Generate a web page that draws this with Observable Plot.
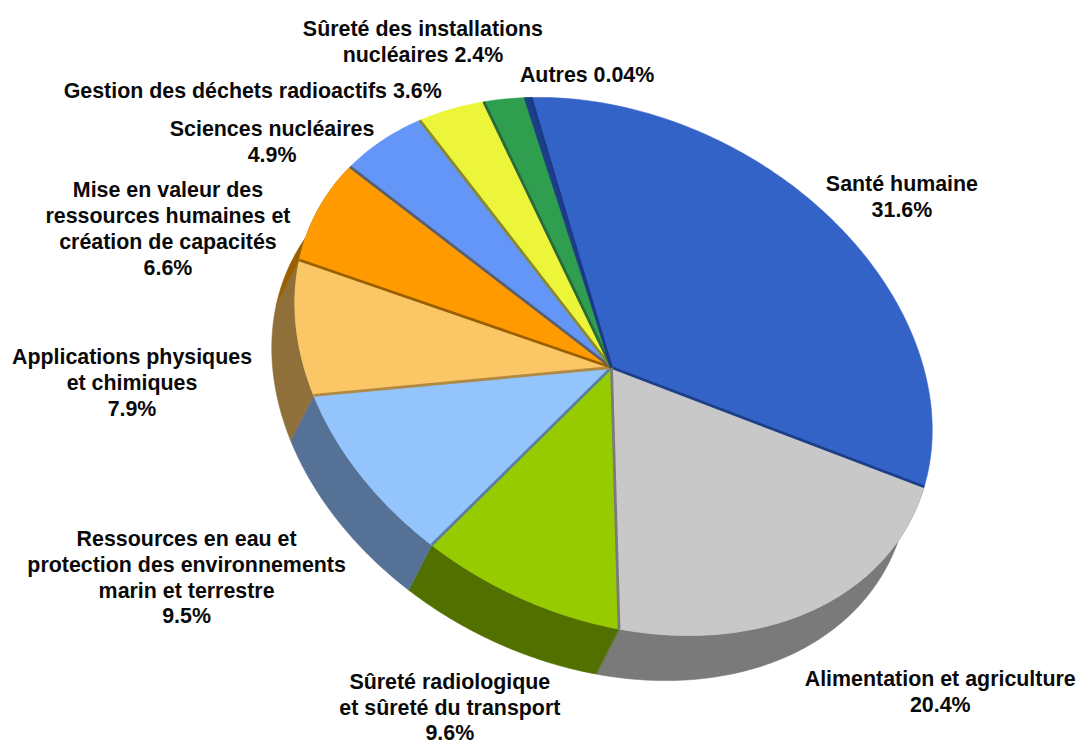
<!DOCTYPE html>
<html lang="fr">
<head>
<meta charset="utf-8">
<title>Répartition par domaine</title>
<script src="https://cdn.jsdelivr.net/npm/d3@7"></script>
<script src="https://cdn.jsdelivr.net/npm/@observablehq/plot@0.6"></script>
<style>
  html, body { margin: 0; padding: 0; background: #fff; }
  svg { display: block; }
</style>
</head>
<body>
<div id="chart"></div>
<script>
// Slices, clockwise from the top of the pie.
const categories = [
  "Santé humaine", "Alimentation et agriculture", "Sûreté radiologique et sûreté du transport",
  "Ressources en eau et protection des environnements marin et terrestre",
  "Applications physiques et chimiques",
  "Mise en valeur des ressources humaines et création de capacités",
  "Sciences nucléaires", "Gestion des déchets radioactifs",
  "Sûreté des installations nucléaires", "Autres"
];
const shares = [31.6, 20.4, 9.6, 9.5, 7.9, 6.6, 4.9, 3.6, 2.4, 0.04];
const shareLabels = ["31.6%", "20.4%", "9.6%", "9.5%", "7.9%", "6.6%", "4.9%", "3.6%", "2.4%", "0.04%"];
const labelText = [
  "Santé humaine\n", "Alimentation et agriculture\n", "Sûreté radiologique\net sûreté du transport\n",
  "Ressources en eau et\nprotection des environnements\nmarin et terrestre\n",
  "Applications physiques\net chimiques\n",
  "Mise en valeur des\nressources humaines et\ncréation de capacités\n",
  "Sciences nucléaires\n", "Gestion des déchets radioactifs ",
  "Sûreté des installations\nnucléaires ", "Autres "
];

// Colours: top face, side wall, and the seam that closes each slice.
const topColors = ["#3463c8", "#c8c8c8", "#96cb00", "#93c4fb", "#fbc766", "#ff9a00", "#6496f8", "#ecf53a", "#2f9e4f", "#1c3a8a"];
const wallColors = ["#1c3a8a", "#7a7a7a", "#517000", "#557296", "#8f703a", "#9a5f00", "#3f5f9f", "#8f9a20", "#1c6a34", "#12285f"];
const seamColors = ["#1d3f88", "#7b7b7b", "#5b7f9e", "#b08a45", "#9a5f00", "#59606f", "#8a8a2a", "#2a6a3a", "#1c3a8a", "#1c3a8a"];

// Label placement relative to the rim point at each slice's middle.
const labelShift = [[67, -27], [126, 81.5], [-71, 108], [-174, 101], [-164, 55.5], [-150, 18], [-110, 0], [-198, -20], [-84, -58], [56, -24]];

// The tilted disc: an affine image of the unit circle, with the hub set slightly
// off the rim's centre for perspective, then extruded along one vector.
const W = 1078, H = 743;
const hub = { x: 611, y: 367 };
const rimCenter = [613, 366];
const axisSin = [308, -6], axisCos = [-82, -269];
const depth = [-23, 45];

const total = d3.sum(shares);
const cumulative = d3.cumsum(shares);
const angleAt = (f) => (f / total) * 2 * Math.PI;
const startOf = (i) => angleAt(i ? cumulative[i - 1] : 0);
const endOf = (i) => angleAt(cumulative[i]);

const rim = (t, shift = [0, 0]) => ({
  x: rimCenter[0] + axisSin[0] * Math.sin(t) + axisCos[0] * Math.cos(t) + shift[0],
  y: rimCenter[1] + axisSin[1] * Math.sin(t) + axisCos[1] * Math.cos(t) + shift[1]
});
const arc = (a, b, shift) => {
  const n = Math.max(2, Math.ceil((b - a) / 0.015));
  return d3.range(n + 1).map((k) => rim(a + ((b - a) * k) / n, shift));
};

const wedge = (i) => [hub, ...arc(startOf(i), endOf(i))];
const wall = (i) => [...arc(startOf(i), endOf(i)), ...arc(startOf(i), endOf(i), depth).reverse()];

// Only the slices on the near side show a wall.
const nearSide = [1, 2, 3, 4, 5];
const polygon = (points, color) =>
  Plot.line(points, { x: "x", y: "y", fill: color, stroke: color, strokeWidth: 0.6, curve: "linear-closed" });

const seams = categories.slice(0, 9).map((name, i) => ({ name, ...rim(endOf(i)), color: seamColors[i] }));

const labels = categories.map((name, i) => {
  const p = rim((startOf(i) + endOf(i)) / 2);
  return {
    name,
    x: p.x + labelShift[i][0],
    y: p.y + labelShift[i][1],
    text: labelText[i] + shareLabels[i]
  };
});

const chart = Plot.plot({
  width: W,
  height: H,
  margin: 0,
  x: { domain: [0, W], range: [0, W], axis: null },
  y: { domain: [0, H], range: [0, H], axis: null },
  style: { background: "#fff" },
  marks: [
    ...nearSide.map((i) => polygon(wall(i), wallColors[i])),
    ...categories.map((c, i) => polygon(wedge(i), topColors[i])),
    // Dark sliver along the leading edge of the first slice
    polygon([hub, ...arc(-0.024, 0)], seamColors[0]),
    Plot.link(seams, {
      x1: () => hub.x, y1: () => hub.y, x2: "x", y2: "y",
      stroke: (d) => d.color, strokeWidth: 2.8
    }),
    Plot.text(labels, {
      x: "x", y: "y", text: "text",
      fontFamily: "Liberation Sans", fontWeight: "bold", fontSize: 21.4,
      lineHeight: 1.21, fill: "#0a0a0a", textAnchor: "middle", lineAnchor: "middle"
    })
  ],
  color: { type: "identity" }
});
document.getElementById("chart").append(chart);
</script>
</body>
</html>
